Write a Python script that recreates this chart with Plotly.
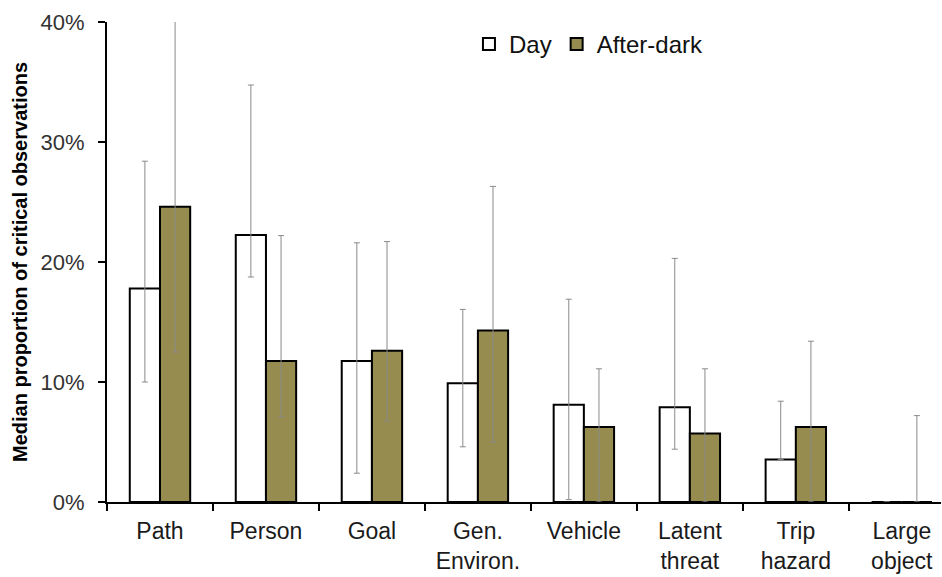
import plotly.graph_objects as go

categories = ["Path", "Person", "Goal", "Gen.<br>Environ.", "Vehicle", "Latent<br>threat", "Trip<br>hazard", "Large<br>object"]
day = [17.8, 22.25, 11.75, 9.9, 8.1, 7.9, 3.55, 0.0]
day_upper = [28.4, 34.75, 21.6, 16.05, 16.9, 20.3, 8.4, 0.0]
day_lower = [10.0, 18.75, 2.4, 4.6, 0.2, 4.4, 3.55, 0.0]
dark = [24.6, 11.75, 12.6, 14.3, 6.25, 5.7, 6.25, 0.0]
dark_upper = [45.0, 22.2, 21.7, 26.3, 11.1, 11.1, 13.4, 7.2]
dark_lower = [12.5, 7.1, 6.75, 5.0, 0.0, 0.0, 0.0, 0.0]

FONT = "Liberation Sans, Arial, sans-serif"
OLIVE = "#968C50"
ERR = "#8a8a8a"

def err(vals, up, lo):
    return dict(type="data", symmetric=False,
                array=[u - v for u, v in zip(up, vals)],
                arrayminus=[v - l for v, l in zip(vals, lo)],
                color=ERR, thickness=1, width=3)

fig = go.Figure()
fig.add_trace(go.Bar(name="Day", x=categories, y=day,
                     marker=dict(color="white", line=dict(color="black", width=2)),
                     error_y=err(day, day_upper, day_lower)))
fig.add_trace(go.Bar(name="After-dark", x=categories, y=dark,
                     marker=dict(color=OLIVE, line=dict(color="black", width=2)),
                     error_y=err(dark, dark_upper, dark_lower)))

fig.update_layout(
    width=942, height=577,
    margin=dict(l=107, r=1, t=22, b=75, autoexpand=False),
    paper_bgcolor="white", plot_bgcolor="white",
    barmode="group", bargap=0.43, bargroupgap=0,
    font=dict(family=FONT, size=23, color="#1a1a1a"),
    legend=dict(orientation="h", x=0.434, y=1.0, xanchor="left", yanchor="top",
                font=dict(size=24, color="#111"), bgcolor="rgba(0,0,0,0)",
                itemwidth=30, tracegroupgap=0),
    showlegend=True,
)
fig.update_xaxes(
    range=[-0.5, 7.37], showline=True, linecolor="black", linewidth=2,
    ticks="outside", tickson="boundaries", ticklen=7, tickwidth=2, tickcolor="black",
    ticklabelstandoff=7,
    tickfont=dict(size=23, family=FONT, color="#1a1a1a"), showgrid=False, automargin=False,
)
fig.update_yaxes(
    range=[0, 40], tickvals=[0, 10, 20, 30, 40], ticktext=["0%", "10%", "20%", "30%", "40%"],
    showline=True, linecolor="black", linewidth=2, ticks="outside", ticklen=7,
    tickwidth=2, tickcolor="black", showgrid=False, zeroline=False, automargin=False,
    ticklabelstandoff=9,
    tickfont=dict(size=22, family=FONT, color="#333"),
    title=dict(text="Median proportion of critical observations",
               font=dict(size=20, family=FONT, color="black", weight="bold"), standoff=8),
)

fig.write_html("out.html", config={"displayModeBar": False},
               post_script="document.body.style.margin='0';document.body.style.overflow='hidden';")
